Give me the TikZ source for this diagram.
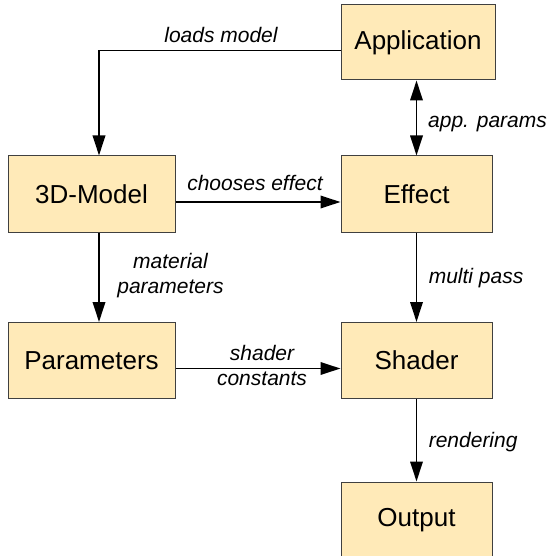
\documentclass[tikz,border=0pt]{standalone}
\usepackage{fontspec}
\setmainfont{Liberation Sans}
\usetikzlibrary{arrows.meta}
\definecolor{boxfill}{HTML}{FFEAB8}
\definecolor{boxline}{HTML}{404040}
\tikzset{
  block/.style={draw=boxline, line width=1pt, fill=boxfill, rectangle,
    inner sep=0pt, font=\fontsize{26}{30}\selectfont},
  flow/.style={line width=1.8pt, -{Triangle[length=20pt,width=12.5pt]}},
  twoway/.style={line width=1.8pt, {Triangle[length=20pt,width=12.5pt]}-{Triangle[length=20pt,width=12.5pt]}},
  lbl/.style={inner sep=0pt, font=\fontsize{21}{24.5}\selectfont\itshape}
}
\begin{document}
\begin{tikzpicture}[x=1pt, y=-1pt]
  \useasboundingbox (0,0) rectangle (547,556);

  % boxes
  \node[block, minimum width=154pt, minimum height=75pt] (app)    at (418,42.5)  {Application};
  \node[block, minimum width=167pt, minimum height=76pt] (model)  at (91.5,194)  {3D-Model};
  \node[block, minimum width=151pt, minimum height=76pt] (effect) at (416.5,194) {Effect};
  \node[block, minimum width=167pt, minimum height=76pt] (params) at (91.5,360.5) {Parameters};
  \node[block, minimum width=151pt, minimum height=76pt] (shader) at (416.5,360.5) {Shader};
  \node[block, minimum width=151pt, minimum height=76pt] (output) at (416.5,520) {Output};

  % connectors
  \draw[flow] ([yshift=-8pt]app.west) -| ([xshift=7.5pt]model.north);
  \draw[twoway] (effect.north) -- (effect.north |- app.south);
  \draw[flow] ([yshift=-8pt]model.east) -- ([yshift=-8pt]effect.west);
  \draw[flow] ([xshift=7.5pt]model.south) -- ([xshift=7.5pt]params.north);
  \draw[flow] (effect.south) -- (shader.north);
  \draw[flow] ([yshift=-8pt]params.east) -- ([yshift=-8pt]shader.west);
  \draw[flow] (shader.south) -- (output.north);

  % connector labels
  \node[lbl, anchor=base] (l1) at (221,42.7) {loads model};
  \node[lbl, anchor=base west] (l2) at (428,128) {app. params};
  \node[lbl, anchor=base] (l3) at (255,190) {chooses effect};
  \node[lbl, align=center] (l4) at (170.5,275.5) {material\\parameters};
  \node[lbl, anchor=base west] (l5) at (428.6,283) {multi pass};
  \node[lbl, align=center] (l6) at (262,365.5) {shader\\constants};
  \node[lbl, anchor=base west] (l7) at (428.6,447) {rendering};
\end{tikzpicture}
\end{document}
